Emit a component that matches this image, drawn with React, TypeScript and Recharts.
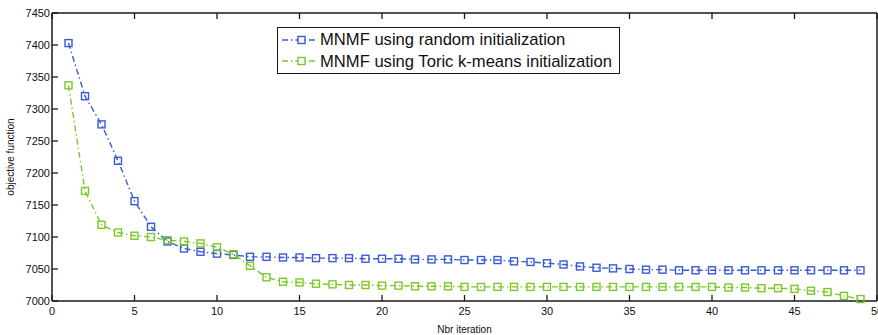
import { LineChart, Line, XAxis, YAxis } from "recharts";

const BLUE = "#3a5bd6";
const GREEN = "#7cc82a";
const AXIS = "#1a1a1a";
const FONT = "Arial, 'Liberation Sans', sans-serif";
const TICK = 6;

const iterations = [
  1, 2, 3, 4, 5, 6, 7, 8, 9, 10, 11, 12, 13, 14, 15, 16, 17, 18, 19, 20, 21, 22, 23, 24, 25,
  26, 27, 28, 29, 30, 31, 32, 33, 34, 35, 36, 37, 38, 39, 40, 41, 42, 43, 44, 45, 46, 47, 48, 49,
];

const randomInit = [
  7403, 7320, 7276, 7219, 7156, 7116, 7093, 7082, 7077, 7074, 7072, 7069, 7069, 7068, 7068,
  7067, 7067, 7067, 7066, 7066, 7066, 7065, 7065, 7065, 7064, 7064, 7064, 7062, 7061, 7059,
  7057, 7054, 7052, 7051, 7050, 7049, 7049, 7048, 7048, 7048, 7048, 7048, 7048, 7048, 7048,
  7048, 7048, 7048, 7048,
];

const toricInit = [
  7337, 7172, 7119, 7107, 7102, 7100, 7095, 7093, 7090, 7084, 7073, 7055, 7037, 7030, 7029,
  7027, 7026, 7025, 7025, 7024, 7024, 7023, 7023, 7023, 7022, 7022, 7022, 7022, 7022, 7022,
  7022, 7022, 7022, 7022, 7022, 7022, 7022, 7022, 7022, 7022, 7021, 7021, 7020, 7020, 7019,
  7016, 7014, 7008, 7003,
];

const xTicks = [0, 5, 10, 15, 20, 25, 30, 35, 40, 45, 50];
const yTicks = [7000, 7050, 7100, 7150, 7200, 7250, 7300, 7350, 7400, 7450];

const series = [
  { key: "random", name: "MNMF using random initialization", color: BLUE },
  { key: "toric", name: "MNMF using Toric k-means initialization", color: GREEN },
];

const data = iterations.map((it, i) => ({ it, random: randomInit[i], toric: toricInit[i] }));

const DASH = "6 3 1.5 3";

function squareDot(color: string) {
  return (p: any) => (
    <rect
      key={`${p.dataKey}-${p.index}`}
      x={p.cx - 3.5}
      y={p.cy - 3.5}
      width={7}
      height={7}
      fill="none"
      stroke={color}
      strokeWidth={1.4}
    />
  );
}

// inward tick marks, matlab style
const BottomTick = (p: any) => (
  <g>
    <line x1={p.x} y1={p.y} x2={p.x} y2={p.y - TICK} stroke={AXIS} strokeWidth={1.3} />
    <text x={p.x} y={p.y + 14} textAnchor="middle" fontSize={11} fontFamily={FONT} fill="#111">
      {p.payload.value}
    </text>
  </g>
);
const LeftTick = (p: any) => (
  <g>
    <line x1={p.x} y1={p.y} x2={p.x + TICK} y2={p.y} stroke={AXIS} strokeWidth={1.3} />
    <text x={p.x - 2} y={p.y + 4} textAnchor="end" fontSize={11} fontFamily={FONT} fill="#111">
      {p.payload.value}
    </text>
  </g>
);
const TopTick = (p: any) => (
  <line x1={p.x} y1={p.y} x2={p.x} y2={p.y + TICK} stroke={AXIS} strokeWidth={1.3} />
);
const RightTick = (p: any) => (
  <line x1={p.x} y1={p.y} x2={p.x - TICK} y2={p.y} stroke={AXIS} strokeWidth={1.3} />
);

function LegendBox() {
  return (
    <div
      style={{
        position: "absolute",
        left: 277,
        top: 27,
        border: `1.5px solid ${AXIS}`,
        background: "#fff",
        padding: "1px 7px 1px 3px",
        fontFamily: FONT,
        fontSize: 16.6,
        color: "#111",
        lineHeight: "21.6px",
      }}
    >
      {series.map((s) => (
        <div key={s.key} style={{ display: "flex", alignItems: "center" }}>
          <svg width={36} height={14} style={{ marginRight: 3 }}>
            <line x1={1} y1={7} x2={34} y2={7} stroke={s.color} strokeWidth={1.4} strokeDasharray={DASH} />
            <rect x={17} y={3.5} width={7} height={7} fill="#fff" stroke={s.color} strokeWidth={1.4} />
          </svg>
          <span>{s.name}</span>
        </div>
      ))}
    </div>
  );
}

export default function App() {
  return (
    <div style={{ position: "absolute", left: 0, top: 0, width: 878, height: 335, background: "#fff" }}>
      <LineChart width={878} height={335} data={data} margin={{ top: 12, right: 0, bottom: 0, left: 0 }}>
        <XAxis
          xAxisId="b"
          dataKey="it"
          type="number"
          domain={[0, 50]}
          ticks={xTicks}
          height={34}
          tickSize={0}
          tickMargin={0}
          tickLine={false}
          interval={0}
          stroke={AXIS}
          strokeWidth={1.5}
          tick={BottomTick}
          label={{ value: "Nbr iteration", position: "insideBottom", offset: 2, fill: "#111", fontSize: 10, fontFamily: FONT }}
        />
        <XAxis
          xAxisId="t"
          orientation="top"
          dataKey="it"
          type="number"
          domain={[0, 50]}
          ticks={xTicks}
          height={1}
          tickSize={0}
          tickMargin={0}
          tickLine={false}
          interval={0}
          tick={TopTick}
          stroke={AXIS}
          strokeWidth={1.5}
        />
        <YAxis
          yAxisId="l"
          domain={[7000, 7450]}
          ticks={yTicks}
          width={52}
          tickSize={0}
          tickMargin={0}
          tickLine={false}
          interval={0}
          stroke={AXIS}
          strokeWidth={1.5}
          tick={LeftTick}
          label={{ value: "objective function", angle: -90, position: "insideLeft", offset: 10, style: { textAnchor: "middle" }, fill: "#111", fontSize: 10, fontFamily: FONT }}
        />
        <YAxis
          yAxisId="r"
          orientation="right"
          domain={[7000, 7450]}
          ticks={yTicks}
          width={1}
          tickSize={0}
          tickMargin={0}
          tickLine={false}
          interval={0}
          tick={RightTick}
          stroke={AXIS}
          strokeWidth={1.5}
        />
        {series.map((s) => (
          <Line
            key={s.key}
            xAxisId="b"
            yAxisId="l"
            dataKey={s.key}
            name={s.name}
            stroke={s.color}
            strokeWidth={1.4}
            strokeDasharray={DASH}
            dot={squareDot(s.color)}
            activeDot={false}
            isAnimationActive={false}
          />
        ))}
      </LineChart>
      <LegendBox />
    </div>
  );
}
